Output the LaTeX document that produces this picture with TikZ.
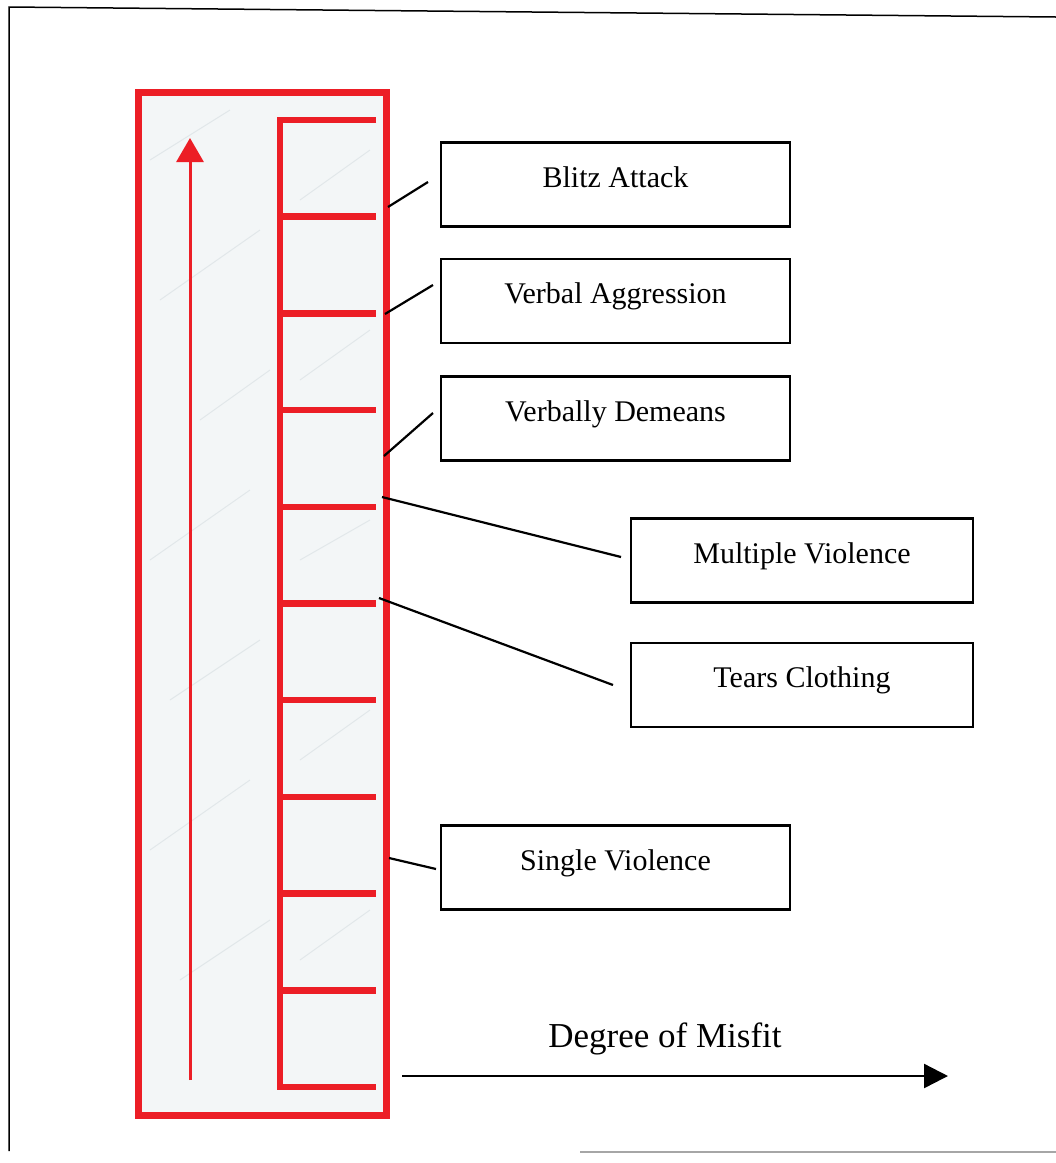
\documentclass[tikz,border=0pt]{standalone}
\usepackage{fontspec}
\setmainfont{Liberation Serif}
\usetikzlibrary{arrows.meta}
\definecolor{ladred}{RGB}{236,30,38}
\definecolor{marble}{RGB}{243,246,247}
\definecolor{smudge}{RGB}{205,214,218}
\begin{document}
\begin{tikzpicture}[x=1pt,y=-1pt,
  redframe/.style={draw=ladred,line width=7pt,fill=marble},
  ladder/.style={draw=ladred,line width=6.5pt,line cap=butt,line join=miter},
  uparrow/.style={draw=ladred,line width=3pt,-{Triangle[width=27pt,length=24pt]}},
  conn/.style={draw=black,line width=2.2pt},
  misfit/.style={draw=black,line width=2.4pt,-{Triangle[width=24pt,length=24pt]}},
  lbox/.style={draw=black,line width=2.2pt,inner sep=0pt,minimum height=84pt,
    text height=20pt,text depth=15pt,font=\fontsize{30}{36}\selectfont},
  leftbox/.style={lbox,minimum width=349pt},
  rightbox/.style={lbox,minimum width=342pt},
  pageframe/.style={draw=black,line width=1.5pt}
]
\useasboundingbox (0,0) rectangle (1056,1163);

% page frame
\coordinate (fa) at (9,1151);
\coordinate (fb) at (9,7);
\coordinate (fc) at (1056,17);
\coordinate (fd) at (580,1152);
\coordinate (fe) at (1056,1152);
\draw[pageframe] (fa) -- (fb) -- (fc);
\draw[draw=gray!70,line width=1.2pt] (fd) -- (fe);

% red scale panel
\coordinate (rA) at (138.5,92.5);
\coordinate (rB) at (386,1115);
\draw[redframe] (rA) rectangle (rB);

% faint marble streaks
\begin{scope}[draw=smudge,line width=1pt,opacity=0.45]
\draw (150,160) -- (230,110);
\draw (160,300) -- (260,230);
\draw (200,420) -- (270,370);
\draw (150,560) -- (250,490);
\draw (170,700) -- (260,640);
\draw (150,850) -- (250,780);
\draw (180,980) -- (270,920);
\draw (300,200) -- (370,150);
\draw (300,380) -- (370,330);
\draw (300,560) -- (370,520);
\draw (300,760) -- (370,710);
\draw (300,960) -- (370,910);
\end{scope}

% up arrow
\coordinate (ua) at (190,1080);
\coordinate (ub) at (190,138);
\draw[uparrow] (ua) -- (ub);

% ladder
\coordinate (lt) at (376,120);
\coordinate (ltc) at (280,120);
\coordinate (lbc) at (280,1087);
\coordinate (lb) at (376,1087);
\draw[ladder] (lt) -- (ltc) -- (lbc) -- (lb);
\foreach \i in {1,...,9}{
  \coordinate (tl\i) at (280,120+96.7*\i);
  \coordinate (tr\i) at (376,120+96.7*\i);
  \draw[ladder] (tl\i) -- (tr\i);
}

% label boxes
\node[leftbox] (blitz) at (615.5,184.5) {Blitz Attack};
\node[leftbox] (verbagg) at (615.5,301) {Verbal Aggression};
\node[leftbox] (verbdem) at (615.5,418.5) {Verbally Demeans};
\node[rightbox] (multi) at (802,560.5) {Multiple Violence};
\node[rightbox] (tears) at (802,685) {Tears Clothing};
\node[leftbox] (single) at (615.5,867.5) {Single Violence};

% connectors
\coordinate (c1a) at (388,207);  \coordinate (c1b) at (428,182);
\coordinate (c2a) at (385,314);  \coordinate (c2b) at (433,285);
\coordinate (c3a) at (384,456);  \coordinate (c3b) at (433,413);
\coordinate (c4a) at (382,497);  \coordinate (c4b) at (621,557);
\coordinate (c5a) at (379,598);  \coordinate (c5b) at (613,685);
\coordinate (c6a) at (389,858);  \coordinate (c6b) at (436,869);
\draw[conn] (c1a) -- (c1b);
\draw[conn] (c2a) -- (c2b);
\draw[conn] (c3a) -- (c3b);
\draw[conn] (c4a) -- (c4b);
\draw[conn] (c5a) -- (c5b);
\draw[conn] (c6a) -- (c6b);

% degree of misfit
\node[anchor=base,font=\fontsize{35}{42}\selectfont,inner sep=0pt] (deg) at (665,1047) {Degree of Misfit};
\coordinate (ma) at (402,1076);
\coordinate (mb) at (948,1076);
\draw[misfit] (ma) -- (mb);
\end{tikzpicture}
\end{document}
